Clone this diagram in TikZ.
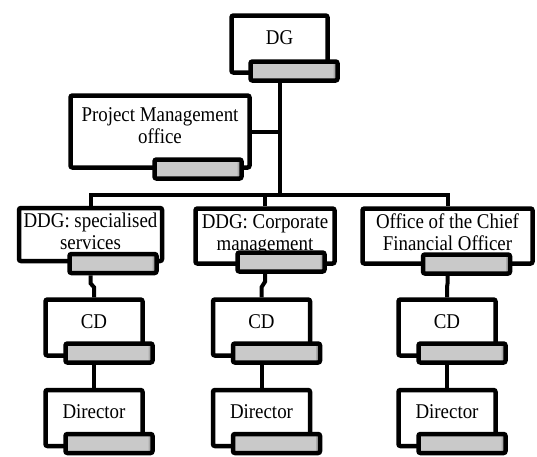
\documentclass[tikz,border=0pt]{standalone}
\usepackage{fontspec}
\setmainfont[FakeStretch=0.9]{Liberation Serif}
\usetikzlibrary{positioning, calc}
\definecolor{c1}{HTML}{000000}
\definecolor{tabfill}{HTML}{C9C9C9}
\definecolor{tabedge}{HTML}{ABABAB}

\begin{document}
\begin{tikzpicture}[
    x=1pt, y=-1pt,
    every node/.style={font=\fontsize{21}{22}\selectfont},
    box/.style={rectangle, draw=c1, fill=white, line width=4.5pt, rounded corners=2pt, inner sep=1pt,
        align=center, text depth=12pt},
    tab/.style={rectangle, draw=c1, fill=tabfill, line width=4.5pt, rounded corners=2pt,
        minimum width=87pt, minimum height=19pt, inner sep=0pt,
        path picture={\fill[tabedge] ([xshift=-4pt]path picture bounding box.north east) rectangle (path picture bounding box.south east);}},
    link/.style={c1, line width=4pt},
]
\useasboundingbox (0,0) rectangle (537,456);

% ============================================================ top
\node[box, minimum width=96pt, minimum height=57pt] (dg) at (279.5,44) {DG};
\node[tab] (tdg) at (294,71) {};

\node[box, minimum width=179pt, minimum height=72pt] (pm) at (160,131.5) {Project Management\\office};
\node[tab] (tpm) at (198,169) {};

\coordinate (bus) at (279.5,195);

% ============================================================ deputies
\node[box, text depth=7pt, minimum width=143pt, minimum height=53pt] (b1) at (90.5,234.5) {DDG: specialised\\services};
\node[tab] (t1) at (113,263.5) {};
\node[box, text depth=7pt, minimum width=139pt, minimum height=55pt] (b2) at (265,236) {DDG: Corporate\\management};
\node[tab] (t2) at (281,262) {};
\node[box, text depth=7pt, minimum width=170pt, minimum height=55pt] (b3) at (447.5,236) {Office of the Chief\\Financial Officer};
\node[tab] (t3) at (466.5,264) {};

% ============================================================ CD and director under each
\foreach \i/\x in {1/94, 2/261.5, 3/447}{
    \node[box, minimum width=97pt, minimum height=56pt] (c\i) at (\x,327.5) {CD};
    \node[tab] (tc\i) at (\x+15,353) {};
    \node[box, minimum width=97pt, minimum height=56pt] (d\i) at (\x,418) {Director};
    \node[tab] (td\i) at (\x+15,443.5) {};
    \draw[link] (c\i.south |- tc\i.south) -- (d\i.north);
}

% connectors
\draw[link] (dg.south |- tdg.south) -- (bus);
\draw[link] (pm.east) -- (pm.east -| bus);
\draw[link] (b1.north) -- (b1.north |- bus) -- (b3.north |- bus) -- (b3.north);
\draw[link] (b2.north) -- (b2.north |- bus);
\foreach \i in {1,2,3}{
    \draw[link] (b\i.south |- t\i.south) -- ++(0,8) -- ([yshift=10pt]c\i.north) -- (c\i.north);
}

\end{tikzpicture}
\end{document}
